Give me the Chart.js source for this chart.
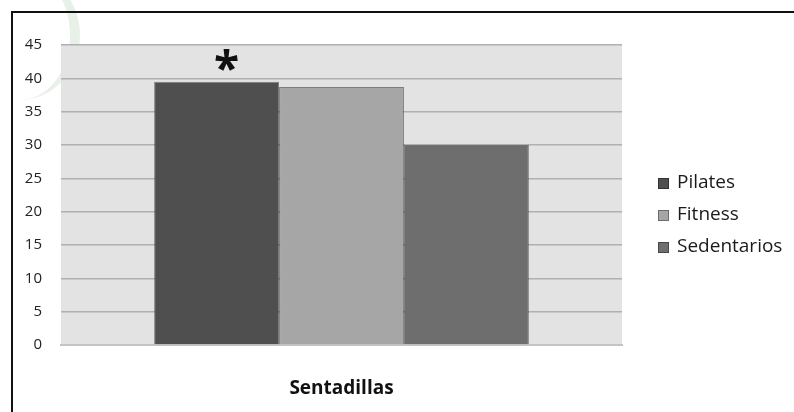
<!DOCTYPE html>
<html><head><meta charset="utf-8">
<script src="https://cdn.jsdelivr.net/npm/chart.js@4"></script>
<style>
html,body{margin:0;padding:0;background:#fff;width:794px;height:412px;overflow:hidden;}
#deco{position:absolute;left:-40px;top:-30px;width:110px;height:130px;border-radius:50%;border-right:10px solid rgba(190,215,190,0.35);}
#frame{position:absolute;left:11px;top:11px;width:800px;height:420px;border:2px solid #111;box-sizing:border-box;}
#wrap{position:absolute;left:0;top:0;width:794px;height:412px;}
</style></head>
<body>
<div id="deco"></div>
<div id="frame"></div>
<div id="wrap"><canvas id="c" width="794" height="412"></canvas></div>
<script>
const categories = ["Sentadillas"];
const seriesNames = ["Pilates", "Fitness", "Sedentarios"];
const pilates = [39.5];
const fitness = [38.7];
const sedentarios = [30.0];
const marks = ["*", "", ""];
const yTicks = [0, 5, 10, 15, 20, 25, 30, 35, 40, 45];
const colors = ["#4f4f4f", "#a6a6a6", "#6e6e6e"];

const FONT = "'Open Sans', sans-serif";

const bgPlugin = {
  id: 'bg',
  beforeDraw(chart) {
    const {ctx, chartArea: a} = chart;
    ctx.save();
    ctx.fillStyle = '#e3e3e3';
    ctx.fillRect(a.left, a.top, a.right - a.left, a.bottom - a.top);
    ctx.restore();
  }
};

const markPlugin = {
  id: 'marks',
  afterDatasetsDraw(chart) {
    const ctx = chart.ctx;
    ctx.save();
    ctx.fillStyle = '#111';
    ctx.font = "bold 46px " + FONT;
    ctx.textAlign = 'center';
    ctx.textBaseline = 'alphabetic';
    chart.data.datasets.forEach((ds, i) => {
      const m = marks[i];
      if (!m) return;
      const meta = chart.getDatasetMeta(i);
      meta.data.forEach(bar => {
        ctx.fillText(m, bar.x + 10, bar.y + 3);
      });
    });
    ctx.restore();
  }
};

const legendPlugin = {
  id: 'customLegend',
  afterDraw(chart) {
    const ctx = chart.ctx;
    ctx.save();
    ctx.font = "19px " + FONT;
    ctx.textBaseline = 'middle';
    ctx.textAlign = 'left';
    chart.data.datasets.forEach((ds, i) => {
      const y = 183 + i * 32;
      ctx.fillStyle = ds.backgroundColor;
      ctx.fillRect(658, y - 5, 11, 11);
      ctx.strokeStyle = 'rgba(0,0,0,0.35)';
      ctx.lineWidth = 1;
      ctx.strokeRect(658.5, y - 4.5, 10, 10);
      ctx.fillStyle = '#1a1a1a';
      ctx.fillText(ds.label, 677, y);
    });
    ctx.restore();
  }
};

new Chart(document.getElementById('c'), {
  type: 'bar',
  data: {
    labels: categories,
    datasets: [
      {label: seriesNames[0], data: pilates, backgroundColor: colors[0]},
      {label: seriesNames[1], data: fitness, backgroundColor: colors[1]},
      {label: seriesNames[2], data: sedentarios, backgroundColor: colors[2]}
    ].map(d => Object.assign(d, {borderColor: 'rgba(40,40,40,0.55)', borderWidth: 1, borderSkipped: 'bottom'}))
  },
  options: {
    responsive: false,
    animation: false,
    layout: {padding: {left: 0, right: 172, top: 45, bottom: 0}},
    plugins: {legend: {display: false}, tooltip: {enabled: false}},
    datasets: {bar: {categoryPercentage: 0.668, barPercentage: 1.0}},
    scales: {
      x: {
        grid: {display: false},
        border: {display: true, color: '#c4c4c4', width: 2},
        ticks: {color: '#111', font: {family: FONT, size: 19, weight: 'bold'}, padding: 24},
        afterFit(s) { s.height = 67; }
      },
      y: {
        min: 0, max: 45,
        afterBuildTicks(s) { s.ticks = yTicks.map(v => ({value: v})); },
        grid: {color: '#b0b0b0', lineWidth: 1.5, drawTicks: false},
        border: {display: false},
        ticks: {color: '#222', font: {family: FONT, size: 15}, padding: 19},
        afterFit(s) { s.width = 61; }
      }
    }
  },
  plugins: [bgPlugin, markPlugin, legendPlugin]
});
</script>
</body></html>
